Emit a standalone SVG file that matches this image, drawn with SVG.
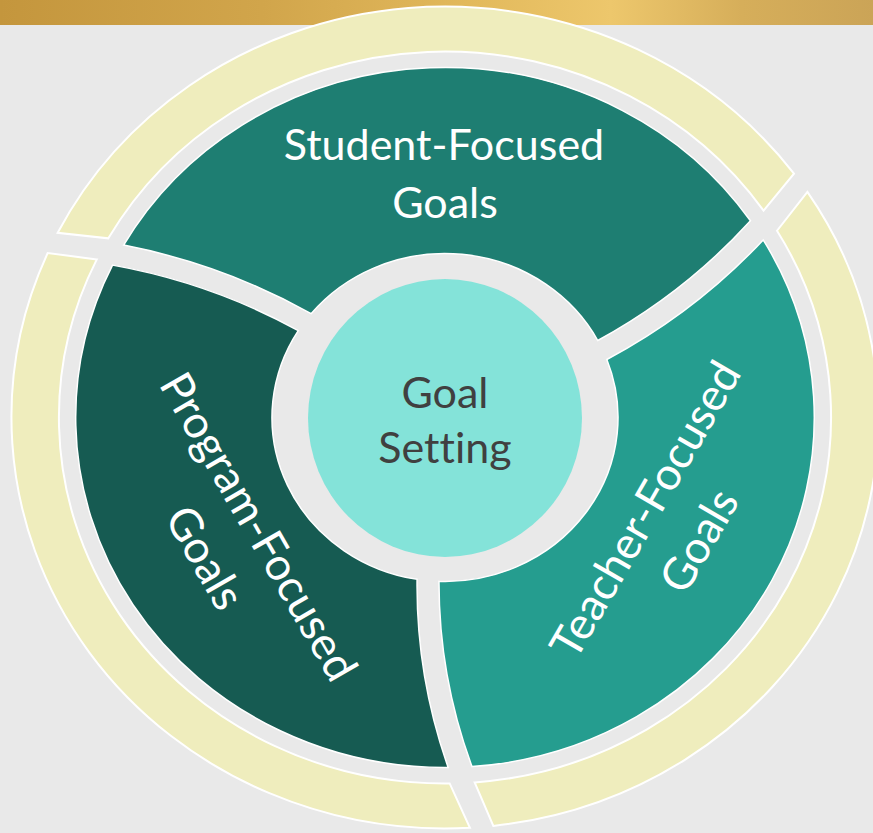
<svg xmlns="http://www.w3.org/2000/svg" xmlns:xlink="http://www.w3.org/1999/xlink" width="873" height="833" viewBox="0 0 873 833">
  <defs>
    <linearGradient id="gold" x1="0" y1="0" x2="1" y2="0">
      <stop offset="0" stop-color="#C4963D"/>
      <stop offset="0.3" stop-color="#D1A54B"/>
      <stop offset="0.55" stop-color="#E3BA5D"/>
      <stop offset="0.7" stop-color="#EDC76C"/>
      <stop offset="0.85" stop-color="#D6AE5A"/>
      <stop offset="1" stop-color="#CBA457"/>
    </linearGradient>
    <!-- one teal segment (Teacher position), unscaled frame centred on 0,0 -->
    <path id="seg" vector-effect="non-scaling-stroke" d="M -5.72 163.9 Q -5.8 259.2 25.6 349.1 A 350 350 0 0 0 301.6 -177.6 Q 237.6 -105.4 153.4 -58.0 A 164 164 0 0 1 -5.72 163.9 Z"/>
    <!-- one pale outer ring piece -->
    <path id="ring" vector-effect="non-scaling-stroke" d="M 28.1 364.9 L 45.8 408.4 A 411 411 0 0 0 343.5 -225.6 L 314.7 -186.8 A 366 366 0 0 1 28.1 364.9 Z"/>
  </defs>
  <style>
    .seg { stroke: #FFFFFF; stroke-width: 1.5; }
    .yel { fill: #EFEDBD; stroke: #FFFFFF; stroke-width: 2; }
    .lbl { font-family: Lato, "Open Sans", "Liberation Sans", sans-serif; font-size: 43px; fill: #FFFFFF; text-anchor: middle; font-variant-ligatures: none; font-feature-settings: "liga" 0, "clig" 0; }
    .rot { font-size: 45px; }
    .ctr { fill: #404040; }
  </style>

  <rect width="873" height="833" fill="#E9E9E9"/>
  <rect width="873" height="25" fill="url(#gold)"/>

  <g id="outer-ring" transform="translate(445,417.5) scale(1.055,1)">
    <use xlink:href="#ring" class="yel"/>
    <use xlink:href="#ring" class="yel" transform="rotate(120)"/>
    <use xlink:href="#ring" class="yel" transform="rotate(240)"/>
  </g>

  <g id="student">
    <use xlink:href="#seg" class="seg" fill="#1E7E72" transform="translate(445,417.5) scale(1.055,1) rotate(240)"/>
    <text class="lbl" x="444" y="160">Student-Focused</text>
    <text class="lbl" x="445" y="218">Goals</text>
  </g>

  <g id="program">
    <use xlink:href="#seg" class="seg" fill="#165B52" transform="translate(445,417.5) scale(1.055,1) rotate(120)"/>
    <g transform="translate(232,542) rotate(60)">
      <text class="lbl rot" x="0" y="-15">Program-Focused</text>
      <text class="lbl rot" x="0" y="47">Goals</text>
    </g>
  </g>

  <g id="teacher">
    <use xlink:href="#seg" class="seg" fill="#259D8F" transform="translate(445,417.5) scale(1.055,1)"/>
    <g transform="translate(672,525) rotate(-60)">
      <text class="lbl rot" x="0" y="-15">Teacher-Focused</text>
      <text class="lbl rot" x="0" y="47">Goals</text>
    </g>
  </g>

  <g id="goal-setting">
    <ellipse cx="445" cy="418" rx="137" ry="139" fill="#84E3D9"/>
    <text class="lbl ctr" x="445" y="408">Goal</text>
    <text class="lbl ctr" x="445" y="463">Setting</text>
  </g>
</svg>
